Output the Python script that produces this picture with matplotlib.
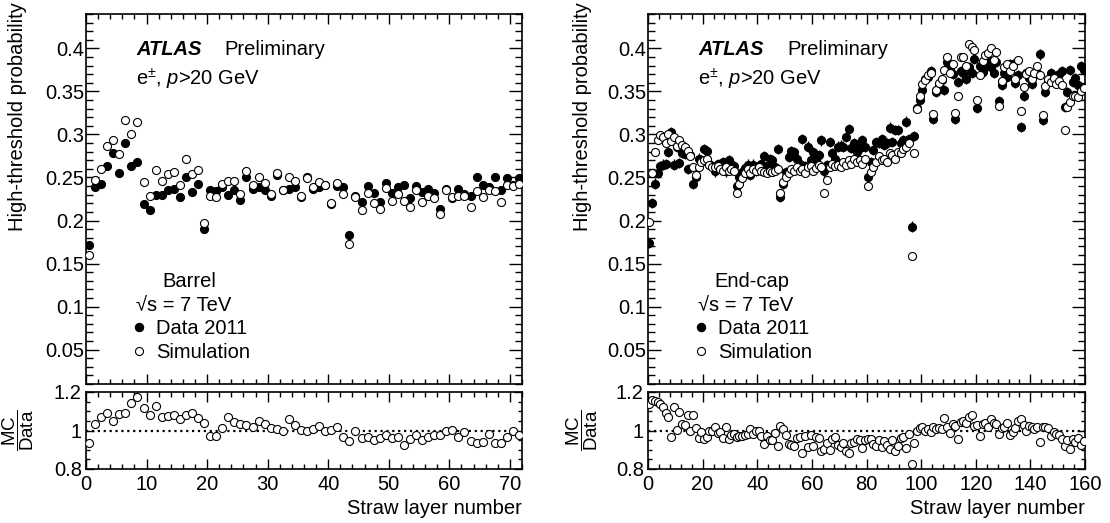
import numpy as np
import matplotlib
matplotlib.use('Agg')
import matplotlib.pyplot as plt
from matplotlib.ticker import MultipleLocator, FuncFormatter

plt.rcParams['font.family'] = ['Liberation Sans', 'DejaVu Sans']
plt.rcParams['mathtext.fontset'] = 'custom'
plt.rcParams['mathtext.rm'] = 'Liberation Sans'
plt.rcParams['mathtext.it'] = 'Liberation Sans:italic'
plt.rcParams['mathtext.bf'] = 'Liberation Sans:bold'

# barrel, 72 straw layers
barrel_data = [0.171, 0.239, 0.243, 0.263, 0.279, 0.255, 0.290, 0.263, 0.268, 0.219,
               0.212, 0.230, 0.230, 0.236, 0.237, 0.227, 0.251, 0.233, 0.243, 0.190,
               0.235, 0.234, 0.239, 0.230, 0.236, 0.224, 0.251, 0.237, 0.239, 0.236,
               0.228, 0.253, 0.236, 0.237, 0.239, 0.227, 0.250, 0.237, 0.239, 0.241,
               0.219, 0.240, 0.239, 0.183, 0.228, 0.221, 0.240, 0.232, 0.222, 0.244,
               0.232, 0.239, 0.241, 0.226, 0.240, 0.233, 0.237, 0.232, 0.213, 0.237,
               0.226, 0.237, 0.231, 0.228, 0.250, 0.241, 0.239, 0.250, 0.236, 0.249,
               0.241, 0.249]
barrel_mc = [0.160, 0.247, 0.260, 0.287, 0.293, 0.277, 0.317, 0.300, 0.314, 0.245,
             0.229, 0.259, 0.246, 0.254, 0.256, 0.241, 0.271, 0.254, 0.259, 0.197,
             0.228, 0.227, 0.242, 0.246, 0.246, 0.231, 0.258, 0.241, 0.251, 0.244,
             0.231, 0.255, 0.235, 0.251, 0.246, 0.228, 0.249, 0.239, 0.245, 0.241,
             0.220, 0.244, 0.231, 0.173, 0.227, 0.212, 0.232, 0.220, 0.213, 0.238,
             0.223, 0.231, 0.223, 0.216, 0.235, 0.222, 0.229, 0.226, 0.208, 0.236,
             0.227, 0.229, 0.229, 0.216, 0.234, 0.227, 0.235, 0.234, 0.221, 0.241,
             0.240, 0.243]

# end-cap, 160 straw layers
endcap_data = [0.174, 0.220, 0.243, 0.255, 0.263, 0.265, 0.266, 0.280, 0.303, 0.265,
               0.286, 0.267, 0.279, 0.277, 0.260, 0.276, 0.243, 0.250, 0.272, 0.270,
               0.283, 0.281, 0.266, 0.263, 0.257, 0.266, 0.262, 0.268, 0.257, 0.270,
               0.266, 0.263, 0.240, 0.250, 0.256, 0.261, 0.265, 0.253, 0.265, 0.258,
               0.263, 0.266, 0.275, 0.263, 0.271, 0.270, 0.262, 0.283, 0.227, 0.243,
               0.256, 0.274, 0.281, 0.280, 0.272, 0.266, 0.295, 0.263, 0.286, 0.270,
               0.280, 0.270, 0.276, 0.293, 0.257, 0.264, 0.291, 0.278, 0.272, 0.286,
               0.287, 0.286, 0.297, 0.306, 0.284, 0.290, 0.280, 0.284, 0.293, 0.286,
               0.251, 0.268, 0.282, 0.291, 0.290, 0.295, 0.288, 0.290, 0.308, 0.291,
               0.305, 0.305, 0.290, 0.293, 0.315, 0.295, 0.193, 0.298, 0.331, 0.340,
               0.352, 0.364, 0.367, 0.374, 0.318, 0.349, 0.356, 0.363, 0.352, 0.384,
               0.376, 0.370, 0.318, 0.361, 0.374, 0.372, 0.365, 0.378, 0.372, 0.388,
               0.331, 0.380, 0.373, 0.378, 0.388, 0.378, 0.372, 0.384, 0.339, 0.358,
               0.372, 0.367, 0.382, 0.382, 0.360, 0.369, 0.309, 0.345, 0.371, 0.366,
               0.359, 0.369, 0.372, 0.393, 0.317, 0.349, 0.361, 0.371, 0.368, 0.365,
               0.370, 0.374, 0.332, 0.349, 0.375, 0.361, 0.366, 0.357, 0.379, 0.375]
endcap_mc = [0.198, 0.255, 0.280, 0.293, 0.299, 0.297, 0.290, 0.300, 0.292, 0.297,
             0.287, 0.293, 0.288, 0.285, 0.281, 0.275, 0.262, 0.253, 0.262, 0.268,
             0.270, 0.272, 0.265, 0.262, 0.262, 0.263, 0.260, 0.258, 0.262, 0.258,
             0.260, 0.258, 0.232, 0.243, 0.249, 0.255, 0.260, 0.255, 0.260, 0.258,
             0.262, 0.258, 0.256, 0.255, 0.258, 0.256, 0.258, 0.260, 0.232, 0.245,
             0.250, 0.255, 0.260, 0.258, 0.262, 0.257, 0.260, 0.255, 0.262, 0.263,
             0.258, 0.261, 0.265, 0.262, 0.232, 0.247, 0.262, 0.266, 0.263, 0.265,
             0.262, 0.268, 0.265, 0.270, 0.266, 0.272, 0.268, 0.270, 0.266, 0.272,
             0.240, 0.256, 0.262, 0.268, 0.275, 0.270, 0.272, 0.268, 0.278, 0.276,
             0.272, 0.280, 0.278, 0.283, 0.286, 0.290, 0.159, 0.278, 0.330, 0.345,
             0.359, 0.363, 0.369, 0.372, 0.324, 0.352, 0.360, 0.365, 0.375, 0.390,
             0.372, 0.382, 0.325, 0.345, 0.390, 0.390, 0.380, 0.405, 0.402, 0.398,
             0.340, 0.369, 0.385, 0.392, 0.395, 0.401, 0.386, 0.396, 0.333, 0.362,
             0.378, 0.382, 0.374, 0.380, 0.365, 0.387, 0.327, 0.355, 0.370, 0.374,
             0.365, 0.372, 0.379, 0.369, 0.323, 0.356, 0.365, 0.361, 0.366, 0.359,
             0.362, 0.358, 0.305, 0.332, 0.338, 0.345, 0.345, 0.344, 0.350, 0.354]
endcap_err = 0.006

FS = 14.5
MS = 5.8
W, H = 1110.0, 523.0


def fmt(v, pos):
    return '%g' % round(v, 3)


def style(ax, xmaj, xmin, ymaj, ymin, ylen, ypad=1):
    ax.xaxis.set_major_locator(MultipleLocator(xmaj))
    ax.xaxis.set_minor_locator(MultipleLocator(xmin))
    ax.yaxis.set_major_locator(MultipleLocator(ymaj))
    ax.yaxis.set_minor_locator(MultipleLocator(ymin))
    ax.yaxis.set_major_formatter(FuncFormatter(fmt))
    ax.tick_params(axis='x', which='both', direction='in', top=True, bottom=True, labelsize=FS, pad=4)
    ax.tick_params(axis='y', which='both', direction='in', left=True, right=True, labelsize=FS, pad=ypad)
    ax.tick_params(axis='x', which='major', length=7, width=1)
    ax.tick_params(axis='x', which='minor', length=3.5, width=1)
    ax.tick_params(axis='y', which='major', length=ylen, width=1)
    ax.tick_params(axis='y', which='minor', length=ylen / 2, width=1)
    for s in ax.spines.values():
        s.set_linewidth(1.2)


fig = plt.figure(figsize=(W / 100, H / 100), dpi=100)

panels = [
    dict(x0=86, x1=522, n=72, data=barrel_data, mc=barrel_mc, err=None, xmaj=10, xmin=2,
         name='Barrel', namex=0.175, ylab=18),
    dict(x0=648, x1=1085, n=160, data=endcap_data, mc=endcap_mc, err=endcap_err, xmaj=20, xmin=4,
         name='End-cap', namex=0.153, ylab=582),
]

for p in panels:
    left = p['x0'] / W
    width = (p['x1'] - p['x0']) / W
    ax = fig.add_axes([left, 1 - 384 / H, width, 370 / H])
    rax = fig.add_axes([left, 1 - 469 / H, width, 77 / H])

    layer = np.arange(p['n']) + 0.5
    data = np.array(p['data'])
    mc = np.array(p['mc'])

    if p['err'] is not None:
        ax.errorbar(layer, data, yerr=p['err'], fmt='none', ecolor='black', elinewidth=1, zorder=2)
    ax.plot(layer, data, 'o', color='black', ms=MS, mew=0.8, zorder=3)
    ax.plot(layer, mc, 'o', mfc='white', mec='black', ms=MS, mew=0.8, zorder=4)

    ax.set_xlim(0, p['n'])
    ax.set_ylim(0.01, 0.44)
    style(ax, p['xmaj'], p['xmin'], 0.05, 0.01, 9.5)
    ax.tick_params(axis='x', labelbottom=False)

    ax.text(0.115, 0.903, 'ATLAS', transform=ax.transAxes, fontsize=FS, fontweight='bold',
            fontstyle='italic', va='center')
    ax.text(0.318, 0.903, 'Preliminary', transform=ax.transAxes, fontsize=FS, va='center')
    ax.text(0.115, 0.824, r'e$^{\pm}$, $p$>20 GeV', transform=ax.transAxes, fontsize=FS, va='center')

    ax.text(p['namex'], 0.278, p['name'], transform=ax.transAxes, fontsize=FS, va='center')
    ax.text(0.115, 0.212, '√s = 7 TeV', transform=ax.transAxes, fontsize=FS, va='center')
    hd, = ax.plot([], [], 'o', color='black', ms=MS)
    hm, = ax.plot([], [], 'o', mfc='white', mec='black', ms=MS, mew=0.8)
    ax.legend([hd, hm], ['Data 2011', 'Simulation'], loc='upper left', bbox_to_anchor=(0.098, 0.176),
              frameon=False, fontsize=FS, handlelength=1.0, handletextpad=0.35, labelspacing=0.25,
              borderpad=0, borderaxespad=0)

    fig.text(p['ylab'] / W, 1 - 2 / H, 'High-threshold probability', rotation=90, ha='center',
             va='top', fontsize=FS)

    ratio = mc / data
    rax.axhline(1.0, color='black', ls=':', lw=1.6, zorder=1)
    rax.plot(layer, ratio, 'o', mfc='white', mec='black', ms=MS, mew=0.8, zorder=3)
    rax.set_xlim(0, p['n'])
    rax.set_ylim(0.8, 1.2)
    style(rax, p['xmaj'], p['xmin'], 0.2, 0.05, 6, ypad=3)
    rax.set_xlabel('Straw layer number', fontsize=FS, loc='right', labelpad=4)
    fig.text(p['ylab'] / W, 1 - 430 / H, r'$\dfrac{\mathrm{MC}}{\mathrm{Data}}$', rotation=90,
             ha='center', va='center', fontsize=FS - 1)

fig.savefig('out.png', dpi=100)
